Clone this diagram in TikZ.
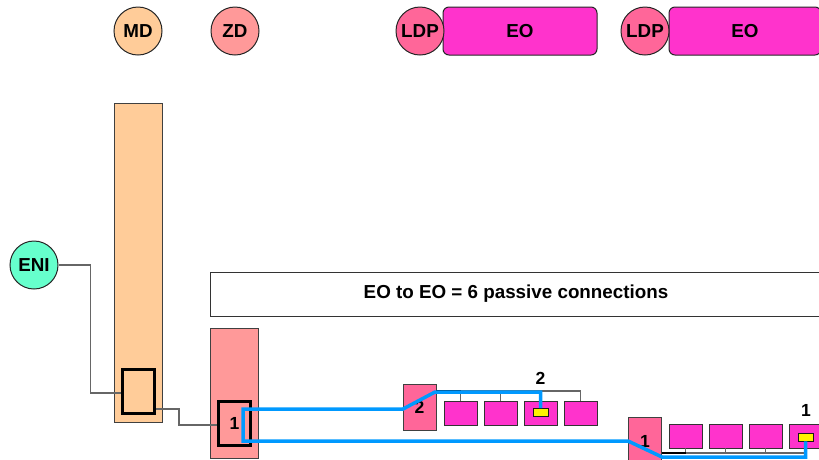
\documentclass[tikz,border=0pt]{standalone}
\usepackage{fontspec}
\setmainfont{Liberation Sans}
\usepackage{xcolor}
\usepackage{tikz}
\definecolor{mdorange}{HTML}{FFCC99}
\definecolor{zdred}{HTML}{FF9999}
\definecolor{ldppink}{HTML}{FF6699}
\definecolor{eomagenta}{HTML}{FF33CC}
\definecolor{enigreen}{HTML}{66FFCC}
\definecolor{loopblue}{HTML}{0099FF}
\newcommand{\lbl}{\bfseries\fontsize{18.8}{18.8}\selectfont}
\newcommand{\digitlbl}{\bfseries\fontsize{17.5}{17.5}\selectfont}
\tikzset{
circlenodev1/.style={circle, draw=black!85,fill=#1,line width=1pt, inner sep=0pt, minimum size= 48pt, font=\lbl},
eonodev1/.style={rectangle, rounded corners=6pt, draw=black!85,fill=eomagenta,line width=1pt, inner sep=0pt, minimum height= 48pt, font=\lbl},
barnodev1/.style={rectangle, draw=black!75,fill=#1,line width=0.8pt, inner sep=0pt, minimum width= 48pt},
portnodev1/.style={rectangle, draw=black!100,fill=none,line width=3pt, inner sep=0pt, minimum width= 32pt, minimum height = 44pt, font=\digitlbl},
textnodev1/.style={rectangle, draw=black!80,fill=white,line width=0.8pt, inner sep=0pt, minimum width= 612pt, minimum height = 44pt, font=\lbl},
ldpboxv1/.style={rectangle, draw=black!75,fill=ldppink,line width=0.8pt, inner sep=0pt, minimum width= 33pt, minimum height = 46pt, font=\digitlbl},
eoboxv1/.style={rectangle, draw=black!80,fill=eomagenta,line width=0.8pt, inner sep=0pt, minimum width= 33pt, minimum height = 24pt},
yellownodev1/.style={rectangle, draw=black!90,fill=yellow,line width=0.8pt, inner sep=0pt, minimum width= 15pt, minimum height = 8pt},
textonlyv1/.style={inner sep=0pt, font=\digitlbl},
wirev1/.style={draw=black!60, line width=1.2pt},
busblackv1/.style={draw=black, line width=1.6pt},
loopv1/.style={draw=loopblue, line width=3.5pt},
}
\begin{document}
\begin{tikzpicture}[x=1pt,y=-1pt]
        \useasboundingbox (0,0) rectangle (819,459);
        \node[circlenodev1=mdorange] at (138,31) (md) {MD};
        \node[circlenodev1=zdred] at (235,31) (zd) {ZD};
        \node[eonodev1, minimum width=154pt] at (520,31) (eoA) {EO};
        \node[circlenodev1=ldppink] at (420,31) (ldpA) {LDP};
        \node[eonodev1, minimum width=152pt] at (745,31) (eoB) {EO};
        \node[circlenodev1=ldppink] at (645,31) (ldpB) {LDP};

        \node[circlenodev1=enigreen] at (34,265) (eni) {ENI};
        \node[barnodev1=mdorange, minimum height=319pt] at (138,262.5) (mdbar) {};
        \node[portnodev1] at (138.5,391) (mdport) {};
        \node[barnodev1=zdred, minimum height=130pt] at (234.5,393) (zdbar) {};
        \node[portnodev1] at (234.5,423.5) (zdport) {1};

        \node[textnodev1] at (516,294) (note) {\raisebox{-1.5pt}{EO to EO = 6 passive connections}};

        \draw[wirev1] (eni.east) -- ++(32,0) |- ([yshift=-2pt]mdport.west);
        \draw[wirev1] ([yshift=-18pt]mdport.east) -- ++(23,0) |- ([yshift=-1.5pt]zdport.west);

        \begin{scope}
        \node[ldpboxv1] at (419.5,407) (ldpTwo) {2};
        \foreach \i/\x in {A/460.5,B/500.5,C/540.5,D/580.5}
            \node[eoboxv1] at (\x,413) (eoTwo\i) {};
        \node[yellownodev1] at (540.5,412.5) (yelTwo) {};
        \node[textonlyv1] at (540.5,378) (labTwo) {2};
        \coordinate (busTwo) at ([yshift=16pt]ldpTwo.east);
        \draw[wirev1] (busTwo) -| (eoTwoD.north);
        \foreach \b in {eoTwoA,eoTwoB,eoTwoC}
            \draw[wirev1] (\b.north) -- (\b.north |- busTwo);
        \draw[busblackv1] (busTwo) -- (busTwo -| eoTwoA.north);
        \end{scope}

        \begin{scope}
        \node[ldpboxv1, minimum height=48pt] at (645,441) (ldpOne) {1};
        \foreach \i/\x in {A/685.5,B/725.5,C/765.5,D/805.5}
            \node[eoboxv1] at (\x,436) (eoOne\i) {};
        \node[yellownodev1] at (805.5,437) (yelOne) {};
        \node[textonlyv1] at (806,410) (labOne) {1};
        \coordinate (busOne) at ([yshift=-12pt]ldpOne.east);
        \draw[wirev1] (busOne) -| (eoOneD.south);
        \foreach \b in {eoOneA,eoOneB,eoOneC}
            \draw[wirev1] (\b.south) -- (\b.south |- busOne);
        \draw[busblackv1] (busOne) -- (busOne -| eoOneA.south);
        \end{scope}

        \draw[loopv1] (yelTwo.north) |- (435,392) -- (403,409) -- (243,409) -- (243,441) -- (628,441) -- (662,457) -| (yelOne.south);
    \end{tikzpicture}
\end{document}
